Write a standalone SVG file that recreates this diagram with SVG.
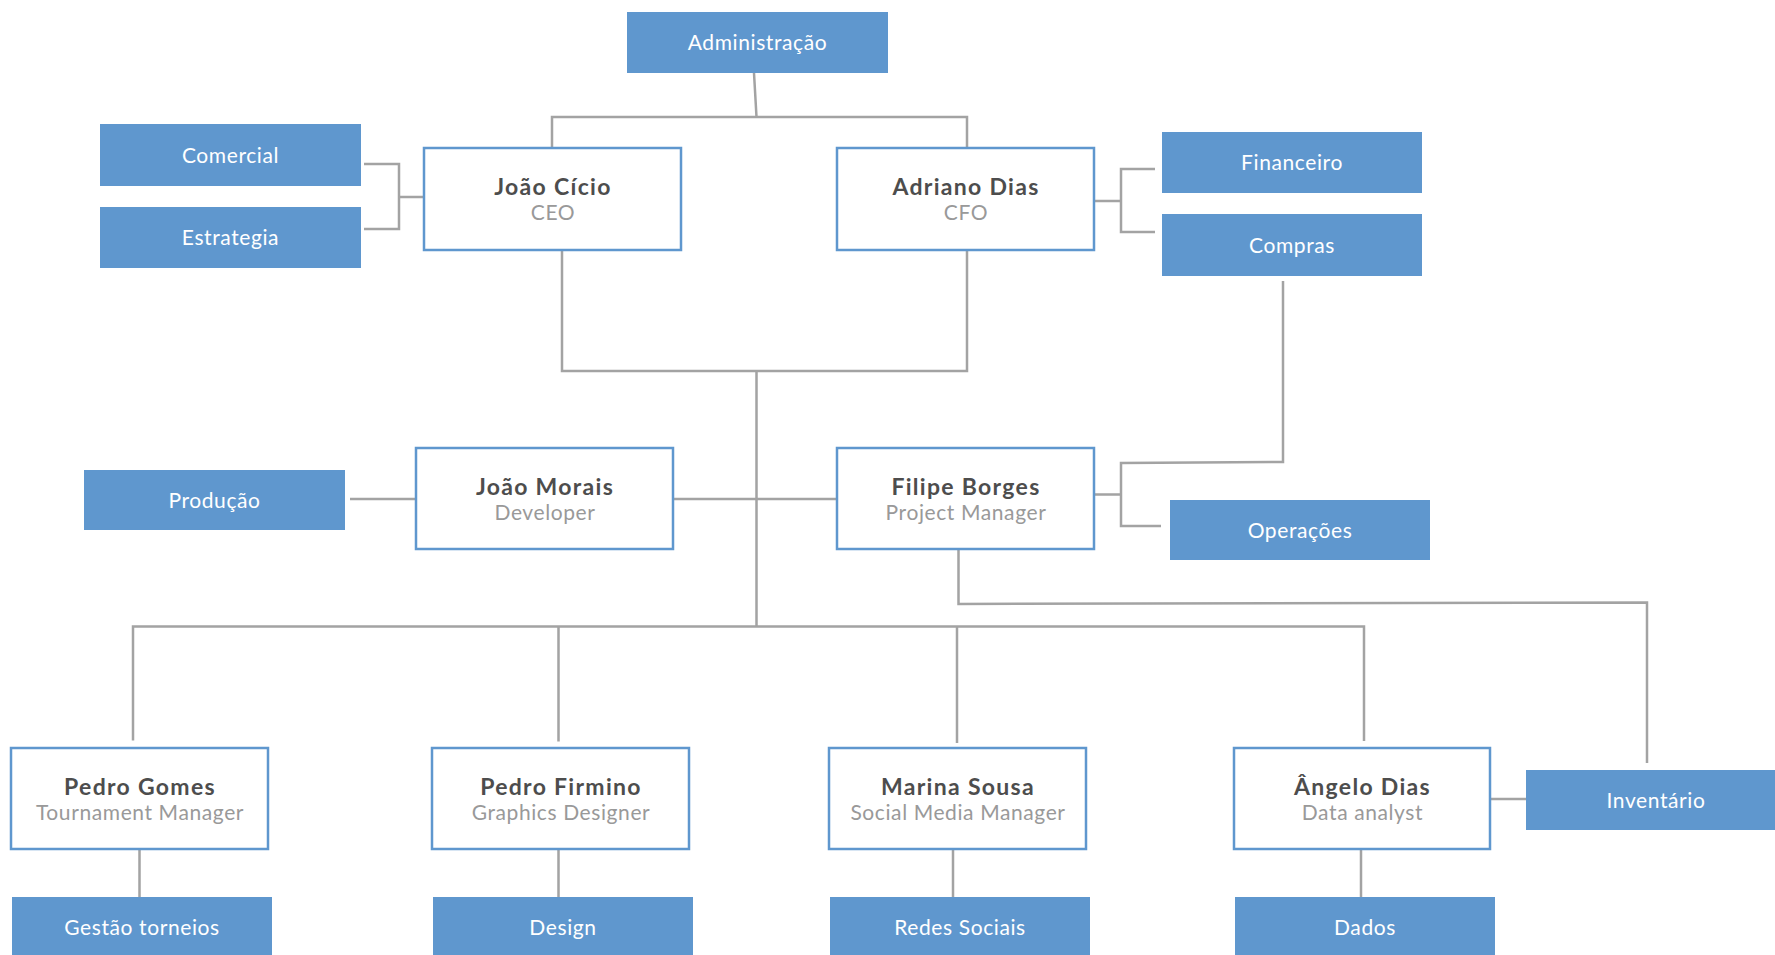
<svg xmlns="http://www.w3.org/2000/svg" width="1775" height="955" viewBox="0 0 1775 955">
<style>
.dept rect{fill:#5f97ce}
.dept text{fill:#ffffff;font-family:Lato,"Noto Sans",sans-serif;font-size:21px;letter-spacing:0.6px;text-anchor:middle}
.person rect{fill:#ffffff;stroke:#5f97ce;stroke-width:2.5}
.person .n{fill:#4d4d4d;font-family:Lato,"Noto Sans",sans-serif;font-size:23px;font-weight:bold;letter-spacing:1.3px;text-anchor:middle}
.person .r{fill:#999999;font-family:Lato,"Noto Sans",sans-serif;font-size:21px;letter-spacing:0.6px;text-anchor:middle}
#connectors path{fill:none;stroke:#a3a3a3;stroke-width:2.5}
</style>
<rect width="1775" height="955" fill="#ffffff"/>
<g id="connectors">
<path d="M754 73 L756.5 117 M552 148 L552 117 L967 117 L967 148"/>
<path d="M364 164 L399 164 L399 229 L364 229 M399 197 L424 197"/>
<path d="M1094 201 L1121 201 M1155 169 L1121 169 L1121 232 L1155 232"/>
<path d="M562 250 L562 371 L967 371 L967 250 M756.5 371 L756.5 626.5"/>
<path d="M1283 281 L1283 462 L1121 463 L1121 526 L1161 526 M1094 494.5 L1121 494.5"/>
<path d="M350 499 L416 499 M673 499 L837 499"/>
<path d="M958.5 549 L958.5 604 L1647 602.5 L1647 763"/>
<path d="M133 740.5 L133 626.5 L1364 626.5 L1364 741 M558.5 626.5 L558.5 741.5 M957 626.5 L957 743"/>
<path d="M139.5 849 L139.5 897 M558.5 849 L558.5 897 M953 849 L953 897 M1361 849 L1361 897 M1490 799 L1526 799"/>
</g>
<g id="administracao" class="dept"><rect x="627" y="12" width="261" height="61"/><text x="757.5" y="50">Administração</text></g>
<g id="comercial" class="dept"><rect x="100" y="124" width="261" height="62"/><text x="230.5" y="162.5">Comercial</text></g>
<g id="estrategia" class="dept"><rect x="100" y="207" width="261" height="61"/><text x="230.5" y="245">Estrategia</text></g>
<g id="financeiro" class="dept"><rect x="1162" y="132" width="260" height="61"/><text x="1292" y="170">Financeiro</text></g>
<g id="compras" class="dept"><rect x="1162" y="214" width="260" height="62"/><text x="1292" y="252.5">Compras</text></g>
<g id="producao" class="dept"><rect x="84" y="470" width="261" height="60"/><text x="214.5" y="507.5">Produção</text></g>
<g id="operacoes" class="dept"><rect x="1170" y="500" width="260" height="60"/><text x="1300" y="537.5">Operações</text></g>
<g id="inventario" class="dept"><rect x="1526" y="770" width="260" height="60"/><text x="1656" y="807.5">Inventário</text></g>
<g id="gestao-torneios" class="dept"><rect x="12" y="897" width="260" height="61"/><text x="142" y="935">Gestão torneios</text></g>
<g id="design" class="dept"><rect x="433" y="897" width="260" height="61"/><text x="563" y="935">Design</text></g>
<g id="redes-sociais" class="dept"><rect x="830" y="897" width="260" height="61"/><text x="960" y="935">Redes Sociais</text></g>
<g id="dados" class="dept"><rect x="1235" y="897" width="260" height="61"/><text x="1365" y="935">Dados</text></g>
<g id="joao-cicio" class="person"><rect x="424" y="148" width="257" height="102"/><text class="n" x="553" y="195">João Cício</text><text class="r" x="553" y="220">CEO</text></g>
<g id="adriano-dias" class="person"><rect x="837" y="148" width="257" height="102"/><text class="n" x="966" y="195">Adriano Dias</text><text class="r" x="966" y="220">CFO</text></g>
<g id="joao-morais" class="person"><rect x="416" y="448" width="257" height="101"/><text class="n" x="545" y="495">João Morais</text><text class="r" x="545" y="520">Developer</text></g>
<g id="filipe-borges" class="person"><rect x="837" y="448" width="257" height="101"/><text class="n" x="966" y="495">Filipe Borges</text><text class="r" x="966" y="520">Project Manager</text></g>
<g id="pedro-gomes" class="person"><rect x="11" y="748" width="257" height="101"/><text class="n" x="140" y="795">Pedro Gomes</text><text class="r" x="140" y="820">Tournament Manager</text></g>
<g id="pedro-firmino" class="person"><rect x="432" y="748" width="257" height="101"/><text class="n" x="561" y="795">Pedro Firmino</text><text class="r" x="561" y="820">Graphics Designer</text></g>
<g id="marina-sousa" class="person"><rect x="829" y="748" width="257" height="101"/><text class="n" x="958" y="795">Marina Sousa</text><text class="r" x="958" y="820">Social Media Manager</text></g>
<g id="angelo-dias" class="person"><rect x="1234" y="748" width="256" height="101"/><text class="n" x="1362.5" y="795">Ângelo Dias</text><text class="r" x="1362.5" y="820">Data analyst</text></g>
</svg>
